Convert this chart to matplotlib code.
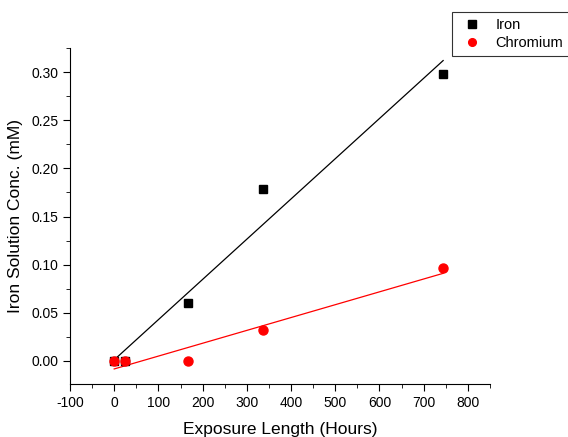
import numpy as np
import matplotlib.pyplot as plt
from matplotlib.ticker import MultipleLocator

plt.rcParams['font.family'] = ['Liberation Sans', 'DejaVu Sans']
plt.rcParams['axes.unicode_minus'] = False

hours = [0, 24, 168, 336, 744]
iron = [0.0, 0.0, 0.060, 0.179, 0.298]
chromium = [0.0, 0.0, 0.0, 0.032, 0.096]

fig = plt.figure(figsize=(5.68, 4.37), dpi=100)
ax = fig.add_axes([0.1232, 0.1213, 0.7395, 0.7687])

ax.plot(hours, iron, 's', color='black', markersize=6, label='Iron', zorder=3)
ax.plot(hours, chromium, 'o', color='red', markersize=6.5, label='Chromium', zorder=4)

# linear fits
xfit = np.array([min(hours), max(hours)])
k, b = np.polyfit(hours, iron, 1)
ax.plot(xfit, k * xfit + b, color='black', lw=0.9, zorder=2)
k, b = np.polyfit(hours, chromium, 1)
ax.plot(xfit, k * xfit + b, color='red', lw=0.9, zorder=2)

ax.set_xlim(-100, 850)
ax.set_ylim(-0.024, 0.325)
ax.xaxis.set_major_locator(MultipleLocator(100))
ax.xaxis.set_minor_locator(MultipleLocator(50))
ax.yaxis.set_major_locator(MultipleLocator(0.05))
ax.yaxis.set_minor_locator(MultipleLocator(0.025))
ax.yaxis.set_major_formatter(plt.FormatStrFormatter('%.2f'))

for s in ['top', 'right']:
    ax.spines[s].set_visible(False)
ax.tick_params(which='major', direction='out', length=5, labelsize=10)
ax.tick_params(which='minor', direction='out', length=3)

ax.set_xlabel('Exposure Length (Hours)', fontsize=12.5, labelpad=9)
ax.set_ylabel('Iron Solution Conc. (mM)', fontsize=12.5, labelpad=6)

leg = fig.legend(loc='upper left', bbox_to_anchor=(452 / 568, 1 - 12 / 437), fontsize=10.5,
                 frameon=True, fancybox=False, edgecolor='black', borderpad=0.4,
                 handletextpad=0.6, labelspacing=0.3, handlelength=2.0, borderaxespad=0,
                 markerscale=0.85)
leg.get_frame().set_linewidth(0.8)

fig.savefig('out.png', dpi=100)
